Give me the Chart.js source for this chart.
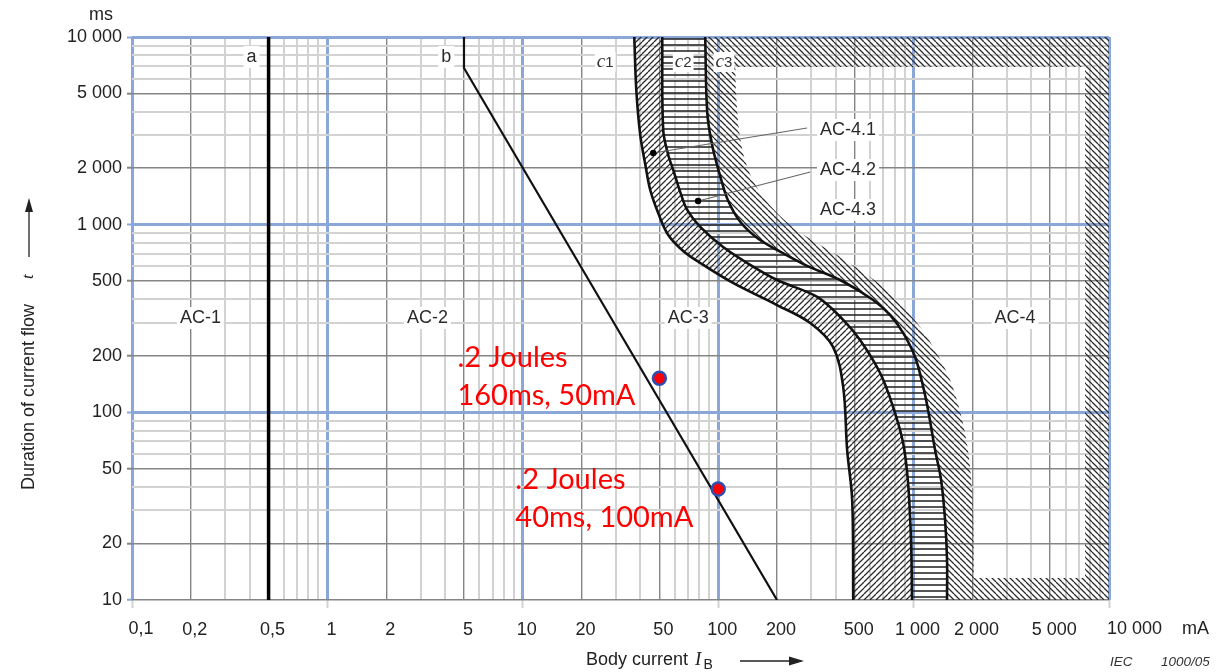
<!DOCTYPE html>
<html><head><meta charset="utf-8">
<script src="https://cdn.jsdelivr.net/npm/chart.js@4.4.0/dist/chart.umd.min.js"></script>
<style>html,body{margin:0;padding:0;background:#fff;}#wrap{width:1231px;height:672px;}</style>
</head><body><div id="wrap"><canvas id="c" width="1231" height="672"></canvas></div>
<script>
// ---- tick labels ----
const xTickValues = [0.1,0.2,0.5,1,2,5,10,20,50,100,200,500,1000,2000,5000,10000];
const xTickLabels = ['0,1','0,2','0,5','1','2','5','10','20','50','100','200','500','1 000','2 000','5 000','10 000'];
const yTickValues = [10,20,50,100,200,500,1000,2000,5000,10000];
const yTickLabels = ['10','20','50','100','200','500','1 000','2 000','5 000','10 000'];

// ---- curves (body current mA, duration ms) ----
const lineA_I = [0.5, 0.5];
const lineA_T = [10, 10000];
const lineB_I = [200, 5, 5];
const lineB_T = [10, 6840, 10000];

const c1_I = [37.2, 38.1, 39.9, 42.4, 44.9, 49.3, 55.5, 66.2, 80.9, 119, 200, 296, 387, 436, 457, 485, 491];
const c1_T = [10000, 5220, 3006, 2080, 1530, 1154, 881, 724, 625, 489, 373, 299, 223, 137, 63, 34, 10];

const c2_I = [51.7, 52.3, 55.5, 58.9, 63.9, 69.4, 80.9, 106, 146, 200, 321, 436, 532, 674, 785, 884, 937, 970, 982];
const c2_T = [10000, 3200, 2352, 1955, 1494, 1198, 973, 760, 610, 507, 412, 311, 243, 162, 107, 68.7, 42, 20.9, 10];

const c3_I = [85.8, 87.9, 93.1, 102, 112, 130, 158.5, 200, 285, 421, 621, 759, 884, 1018, 1119, 1186, 1288, 1383, 1449, 1483, 1483];
const c3_T = [10000, 3940, 2660, 1840, 1355, 1033, 849, 733, 603, 507, 397, 330, 265, 197, 137, 103, 63, 43.6, 26.7, 16.4, 10];

const ac43Edge_I = [122, 124, 133, 155, 200, 285, 421, 731, 1042, 1259, 1500, 1667, 1833, 1945, 2015, 2037];
const ac43Edge_T = [10000, 4620, 2500, 1630, 1154, 859, 673, 449, 299, 223, 158, 116, 77.6, 51.2, 30.2, 10];

const frame_I = [122, 10000, 10000, 2037, 2037, 7540, 7540, 122];
const frame_T = [10000, 10000, 10, 10, 13.1, 13.1, 6920, 6920];

const ac4Dots_I = [46.5, 78.9];
const ac4Dots_T = [2410, 1337];
const leader1_I = [46.5, 285];
const leader1_T = [2410, 3275];
const leader2_I = [78.9, 296];
const leader2_T = [1337, 1909];

const joules_I = [50, 100];
const joules_T = [152, 39];

// ---- helpers ----
const pts = (I, T) => I.map((v, i) => ({x: v, y: T[i]}));
function band(aI, aT, bI, bT) {
  const a = pts(aI, aT), b = pts(bI, bT).reverse();
  return [...a, a[a.length - 1], b[0], ...b];
}
function logGrid(e0, e1) {
  const out = [];
  for (let e = e0; e < e1; e++) for (let m = 1; m <= 9; m++) out.push(Number((m * Math.pow(10, e)).toPrecision(6)));
  out.push(Math.pow(10, e1));
  return out;
}
const xGrid = logGrid(-1, 4), yGrid = logGrid(1, 4);
function mant(v) { const e = Math.floor(Math.log10(v) + 1e-9); return Math.round(v / Math.pow(10, e)); }
function labelFor(vals, labs, v) { const i = vals.findIndex(t => Math.abs(t - v) / t < 1e-6); return i >= 0 ? labs[i] : ''; }

const canvas = document.getElementById('c');
const cctx = canvas.getContext('2d');
function hatch(kind) {
  const s = 6;
  const cv = document.createElement('canvas'); cv.width = s; cv.height = s;
  const g = cv.getContext('2d');
  g.strokeStyle = '#2a2a2a';
  g.lineWidth = 1.25;
  g.beginPath();
  if (kind === 'h') { g.lineWidth = 1.6; g.moveTo(0, s / 2); g.lineTo(s, s / 2); }
  else if (kind === 'back') { for (let k = -1; k <= 1; k++) { g.moveTo(k * s, 0); g.lineTo(k * s + s, s); } }
  else { for (let k = -1; k <= 1; k++) { g.moveTo(k * s, s); g.lineTo(k * s + s, 0); } }
  g.stroke();
  return cctx.createPattern(cv, 'repeat');
}
const patBack = hatch('back'), patFwd = hatch('fwd'), patH = hatch('h');

const BLUE = '#8ba7d8', DARK = '#858585', LIGHT = '#d2d2d2', NONE = 'rgba(0,0,0,0)';
const T = 0.35;
const FONT = '"Liberation Sans", Arial, sans-serif';

const datasets = [
  {data: pts(frame_I, frame_T), fill: 'shape', backgroundColor: patBack, borderColor: NONE, borderWidth: 0, tension: 0, order: 20},
  {data: band(c1_I, c1_T, c2_I, c2_T), fill: 'shape', backgroundColor: patFwd, borderColor: NONE, borderWidth: 0, tension: T, order: 19},
  {data: band(c2_I, c2_T, c3_I, c3_T), fill: 'shape', backgroundColor: patH, borderColor: NONE, borderWidth: 0, tension: T, order: 18},
  {data: band(c3_I, c3_T, ac43Edge_I, ac43Edge_T), fill: 'shape', backgroundColor: patBack, borderColor: NONE, borderWidth: 0, tension: T, order: 17},
  {data: pts(c1_I, c1_T), borderColor: '#111', borderWidth: 2.6, tension: T, order: 5},
  {data: pts(c2_I, c2_T), borderColor: '#111', borderWidth: 2.6, tension: T, order: 5},
  {data: pts(c3_I, c3_T), borderColor: '#111', borderWidth: 2.6, tension: T, order: 5},
  {data: pts(lineA_I, lineA_T), borderColor: '#000', borderWidth: 3.5, tension: 0, order: 5},
  {data: pts(lineB_I, lineB_T), borderColor: '#111', borderWidth: 2.2, tension: 0, order: 5},
  {data: pts(leader1_I, leader1_T), borderColor: '#666', borderWidth: 1.1, tension: 0, order: 4},
  {data: pts(leader2_I, leader2_T), borderColor: '#666', borderWidth: 1.1, tension: 0, order: 4},
  {data: pts(ac4Dots_I, ac4Dots_T), showLine: false, pointRadius: 3.2, pointBackgroundColor: '#000', pointBorderWidth: 0, order: 3},
  {data: pts(joules_I, joules_T), showLine: false, pointRadius: 6.5, pointBackgroundColor: '#ff0000', pointBorderColor: '#2e4fb0', pointBorderWidth: 2.5, order: 0}
].map(d => Object.assign({pointRadius: 0, fill: false}, d));

function textBox(ctx, txt, x, y, align) {
  const w = ctx.measureText(txt).width;
  const lx = align === 'left' ? x : x - w / 2;
  ctx.fillStyle = '#fff';
  ctx.fillRect(lx - 3, y - 11, w + 6, 22);
  ctx.fillStyle = '#2b2b2b';
  ctx.textAlign = 'left';
  ctx.fillText(txt, lx, y);
}

const annot = {
  id: 'annot',
  afterDatasetsDraw(chart) {
    const ctx = chart.ctx, xs = chart.scales.x, ys = chart.scales.y;
    const X = v => xs.getPixelForValue(v), Y = v => ys.getPixelForValue(v);
    ctx.save();
    ctx.textBaseline = 'middle';
    ctx.font = '18px ' + FONT;
    [['AC-1', 0.224], ['AC-2', 3.25], ['AC-3', 70.2], ['AC-4', 3300]].forEach(([t, v]) => textBox(ctx, t, X(v), Y(318), 'center'));
    [['AC-4.1', 3195], ['AC-4.2', 1955], ['AC-4.3', 1197]].forEach(([t, v]) => textBox(ctx, t, X(332), Y(v), 'left'));
    textBox(ctx, 'a', X(0.409), Y(7820), 'center');
    textBox(ctx, 'b', X(4.06), Y(7820), 'center');
    // c labels
    [['1', 26.4], ['2', 66.2], ['3', 107]].forEach(([n, v]) => {
      const x = X(v), y = Y(7360);
      ctx.font = 'italic 19px "Liberation Serif", serif';
      const w1 = ctx.measureText('c').width;
      ctx.font = '15px ' + FONT;
      const w2 = ctx.measureText(n).width;
      const lx = x - (w1 + w2) / 2;
      ctx.fillStyle = '#fff'; ctx.fillRect(lx - 2, y - 10, w1 + w2 + 4, 20);
      ctx.fillStyle = '#333';
      ctx.font = 'italic 19px "Liberation Serif", serif'; ctx.textAlign = 'left';
      ctx.fillText('c', lx, y);
      ctx.font = '15px ' + FONT; ctx.fillText(n, lx + w1, y + 1);
    });
    // red annotations
    ctx.fillStyle = '#ff0000';
    ctx.font = '29px Lato, "Open Sans", sans-serif';
    ctx.textAlign = 'left';
    ctx.fillText('.2 Joules', X(4.63), Y(195));
    ctx.fillText('160ms, 50mA', X(4.63), Y(122));
    ctx.fillText('.2 Joules', X(9.16), Y(43.6));
    ctx.fillText('40ms, 100mA', X(9.16), Y(27.4));
    ctx.restore();
  },
  afterDraw(chart) {
    const ctx = chart.ctx, xs = chart.scales.x;
    ctx.save();
    ctx.fillStyle = '#222'; ctx.strokeStyle = '#222';
    ctx.textBaseline = 'middle';
    ctx.font = '18px ' + FONT;
    ctx.textAlign = 'center';
    ctx.fillText('ms', 101, 15);
    // end labels of the x axis (offset as in the reference)
    ctx.fillText(xTickLabels[0], xs.getPixelForValue(xTickValues[0]) + 9, 629);
    ctx.textAlign = 'left';
    ctx.fillText(xTickLabels[xTickLabels.length - 1], xs.getPixelForValue(xTickValues[xTickValues.length - 1]) - 2, 629);
    ctx.fillText('mA', 1182, 629);
    // y title
    ctx.save();
    ctx.translate(29, 490);
    ctx.rotate(-Math.PI / 2);
    ctx.textAlign = 'left';
    ctx.font = '18px ' + FONT;
    ctx.fillText('Duration of current flow', 0, 0);
    ctx.font = 'italic 17px "Liberation Serif", serif';
    ctx.fillText('t', 211, 0);
    ctx.lineWidth = 1.3;
    ctx.beginPath(); ctx.moveTo(233, 0); ctx.lineTo(282, 0); ctx.stroke();
    ctx.beginPath(); ctx.moveTo(292, 0); ctx.lineTo(278, -4); ctx.lineTo(278, 4); ctx.closePath(); ctx.fill();
    ctx.restore();
    // x title
    ctx.textAlign = 'left';
    ctx.font = '18px ' + FONT;
    ctx.fillText('Body current ', 586, 660);
    let x = 586 + ctx.measureText('Body current ').width + 2;
    ctx.font = 'italic 19px "Liberation Serif", serif';
    ctx.fillText('I', x, 660);
    x += ctx.measureText('I').width + 2;
    ctx.font = '14px ' + FONT;
    ctx.fillText('B', x, 665);
    ctx.lineWidth = 1.3;
    ctx.beginPath(); ctx.moveTo(740, 661); ctx.lineTo(792, 661); ctx.stroke();
    ctx.beginPath(); ctx.moveTo(804, 661); ctx.lineTo(789, 656.5); ctx.lineTo(789, 665.5); ctx.closePath(); ctx.fill();
    ctx.font = 'italic 13.5px ' + FONT;
    ctx.fillStyle = '#333';
    ctx.fillText('IEC', 1110, 662);
    ctx.fillText('1000/05', 1161, 662);
    ctx.restore();
  }
};

function gridColor(isY) {
  return c => {
    const v = c.tick.value, m = mant(v);
    if (isY && Math.abs(v - 10) < 1e-9) return DARK;
    if (m === 1) return BLUE;
    if (m === 2 || m === 5) return DARK;
    return LIGHT;
  };
}
function gridWidth(isY) {
  return c => {
    const v = c.tick.value, m = mant(v);
    if (isY && Math.abs(v - 10) < 1e-9) return 1.5;
    if (m === 1) return 3;
    if (m === 2 || m === 5) return 1.4;
    return 2;
  };
}

new Chart(canvas, {
  type: 'line',
  data: {datasets},
  options: {
    responsive: false,
    animation: false,
    devicePixelRatio: 1,
    events: [],
    layout: {padding: {left: 0, right: 122, top: 37, bottom: 0}},
    plugins: {legend: {display: false}, tooltip: {enabled: false}},
    scales: {
      x: {
        type: 'logarithmic', min: 0.1, max: 10000,
        afterBuildTicks: s => { s.ticks = xGrid.map(v => ({value: v})); },
        afterFit: s => { s.height = 72; },
        border: {display: false},
        grid: {color: gridColor(false), lineWidth: gridWidth(false), drawTicks: true, tickLength: 8,
               tickColor: c => mant(c.tick.value) === 1 ? LIGHT : NONE, tickWidth: 2},
        ticks: {autoSkip: false, maxRotation: 0, minRotation: 0, padding: 11, labelOffset: 4, color: '#222',
                font: {family: '"Liberation Sans", Arial, sans-serif', size: 18},
                callback: v => {
                  const l = labelFor(xTickValues, xTickLabels, v);
                  return (l === xTickLabels[0] || l === xTickLabels[xTickLabels.length - 1]) ? '' : l;
                }}
      },
      y: {
        type: 'logarithmic', min: 10, max: 10000,
        afterBuildTicks: s => { s.ticks = yGrid.map(v => ({value: v})); },
        afterFit: s => { s.width = 132; },
        border: {display: false},
        grid: {color: gridColor(true), lineWidth: gridWidth(true), drawTicks: true, tickLength: 5,
               tickColor: c => { const m = mant(c.tick.value); return m === 1 ? BLUE : (m === 2 || m === 5 ? DARK : NONE); }, tickWidth: 2},
        ticks: {autoSkip: false, padding: 5, color: '#222',
                font: {family: '"Liberation Sans", Arial, sans-serif', size: 18},
                callback: v => labelFor(yTickValues, yTickLabels, v)}
      }
    }
  },
  plugins: [annot]
});
</script>
</body></html>
